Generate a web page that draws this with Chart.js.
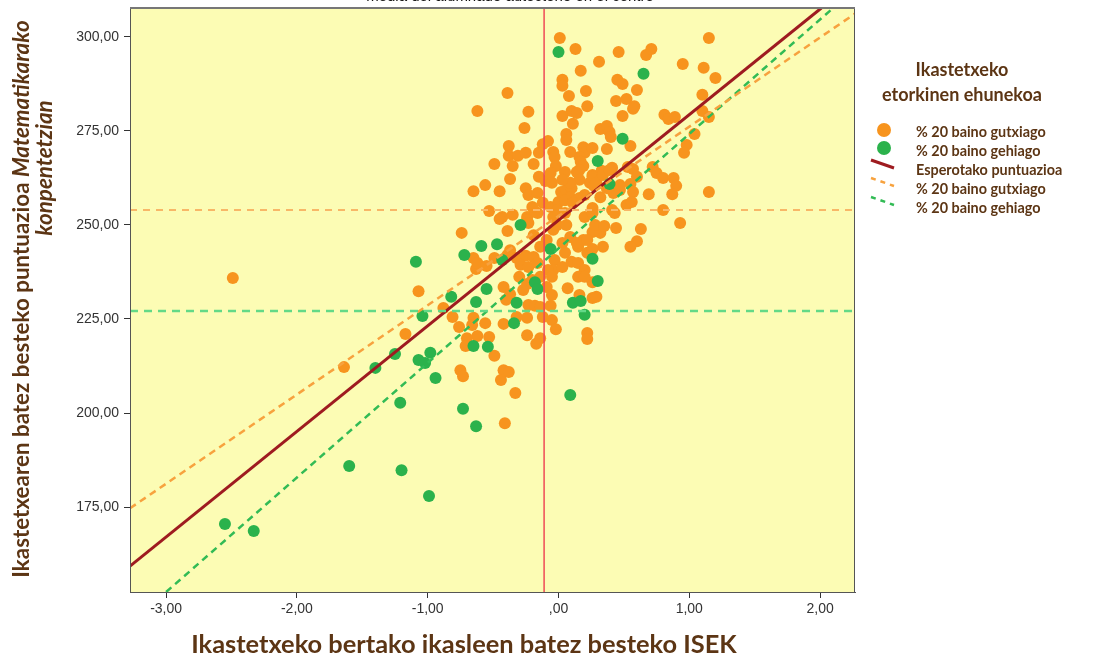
<!DOCTYPE html>
<html lang="eu">
<head>
    <meta charset="UTF-8">
    <title>ISEK eta Matematikako puntuazioa</title>
    <style>
        html, body { margin: 0; padding: 0; background: #ffffff; }
        #wrap { width: 1095px; height: 659px; }
    </style>
</head>
<body>
    <div id="wrap"><canvas id="chart" width="1095" height="659"></canvas></div>

    <script src="https://cdn.jsdelivr.net/npm/chart.js"></script>
    <script>
        // Ikastetxeak: % 20 baino etorkin gutxiago (laranja)
        const orangeX = [
            0.01, 0.13, 0.46, 0.31, 0.17, 0.03, 0.03, 0.08, 0.21, 0.45,
            0.49, 0.60, 0.44, 0.52, 0.57, 0.58, 0.67, 0.71, 0.95, 1.11,
            1.20, 1.15, 1.10, 0.22, 0.49, 0.03, 0.10, 0.14, 0.11, 0.06,
            0.06, 0.32, 0.37, 0.39, 0.40, 0.55, 0.81, 0.84, 0.89, 1.10,
            1.15, 1.04, 0.98, 0.96, 0.19, 0.20, 0.16, 0.26, 0.37, 0.09,
            0.17, 0.19, 0.16, 0.26, 0.24, 0.33, 0.41, 0.53, 0.57, 0.60,
            0.72, 0.75, 0.80, 0.88, 0.90, 0.87, 0.69, 0.55, 0.57, 1.15,
            -0.39, -0.62, -0.23, -0.26, -0.38, -0.08, -0.12, -0.38, -0.31, -0.25,
            -0.15, -0.04, -0.03, -0.49, -0.35, -0.19, -0.02, -0.37, -0.15, -0.10,
            -0.65, -0.56, -0.45, -0.25, -0.23, -0.16, -0.06, -0.05, 0.02, 0.06,
            0.10, 0.09, 0.16, 0.20, 0.32, 0.27, 0.42, 0.47, 0.41, 0.43,
            0.52, 0.56, 0.80, 0.05, 0.14, 0.16, 0.09, 0.03, 0.26, 0.29,
            0.34, 0.39, 0.37, 0.47, -0.53, -0.43, -0.35, -0.24, -0.18, -0.12,
            -0.06, 0.00, 0.05, 0.11, 0.20, 0.26, -0.45, -0.24, -0.39, -0.74,
            -0.16, -0.20, -0.04, -0.01, -0.04, -0.01, -0.23, -0.19, -0.09, -0.14,
            0.05, 0.26, 0.26, 0.19, 0.15, 0.34, 0.06, 0.09, 0.03, 0.14,
            0.22, 0.32, 0.28, 0.35, 0.44, 0.63, 0.60, 0.55, 0.93, 0.22,
            0.26, -0.65, -0.63, -0.62, -0.55, -0.49, -0.39, -0.37, -0.32, -0.25,
            -0.19, -0.29, -0.23, -0.16, -0.03, -0.04, 0.05, 0.03, 0.10, 0.15,
            0.20, 0.15, 0.26, 0.07, 0.26, 0.29, -0.30, -0.24, -0.27, -0.20,
            -0.14, -0.08, -0.05, -0.09, -0.05, -1.07, -0.42, -0.37, -0.40, 0.16,
            0.20, -0.23, -0.18, -0.14, -0.06, -0.12, -0.05, -0.88, -0.81, -0.76,
            -0.65, -0.56, -0.42, -1.17, -0.70, -0.62, -0.53, -0.24, -0.14, -0.02,
            -0.17, 0.22, 0.22, -0.71, -0.66, -0.49, -0.24, -0.32, -0.75, -0.73,
            -0.42, -0.38, -0.44, -0.33, -0.41, -1.64, -2.49
        ];
        const orangeY = [
            299.7, 296.8, 296.0, 293.4, 291.0, 288.6, 287.0, 284.3, 285.6, 288.6,
            287.5, 285.9, 283.0, 283.5, 280.9, 281.6, 295.2, 296.8, 292.8, 291.8,
            289.1, 299.7, 284.6, 281.6, 279.0, 279.0, 280.3, 279.8, 276.9, 274.2,
            272.6, 275.5, 276.3, 274.7, 273.4, 271.0, 279.3, 278.2, 278.7, 280.3,
            278.7, 274.2, 271.3, 269.2, 270.7, 269.2, 268.1, 270.5, 270.2, 269.4,
            266.8, 265.7, 264.6, 263.3, 261.2, 264.4, 265.2, 265.4, 264.9, 262.8,
            265.4, 263.8, 262.5, 262.5, 260.4, 258.2, 258.2, 260.9, 258.8, 258.8,
            285.1, 280.3, 280.1, 275.8, 271.0, 272.3, 271.5, 268.4, 268.4, 269.2,
            269.2, 269.4, 268.1, 266.2, 265.7, 266.2, 265.7, 262.2, 262.8, 261.7,
            259.0, 260.6, 259.0, 259.8, 258.0, 258.5, 263.8, 261.2, 258.8, 259.3,
            259.8, 257.4, 257.2, 258.0, 257.4, 260.4, 258.5, 259.3, 254.0, 253.2,
            255.3, 256.1, 254.0, 264.1, 264.1, 262.0, 261.2, 262.0, 262.8, 261.2,
            263.3, 264.6, 259.8, 260.6, 253.7, 252.1, 252.7, 252.1, 253.5, 255.9,
            254.8, 256.1, 256.6, 255.9, 252.1, 253.2, 251.6, 251.3, 248.4, 247.9,
            253.2, 254.8, 252.1, 254.0, 248.7, 250.0, 250.5, 247.3, 246.0, 244.2,
            253.2, 254.5, 248.1, 246.0, 244.2, 244.2, 250.0, 246.8, 245.2, 245.2,
            246.0, 247.9, 250.0, 249.7, 249.2, 248.9, 245.7, 244.2, 250.5, 242.6,
            243.6, 241.2, 238.3, 239.9, 239.1, 241.2, 242.0, 243.3, 241.2, 241.8,
            241.5, 239.4, 238.8, 239.9, 240.7, 238.0, 242.6, 238.8, 240.2, 239.9,
            238.0, 236.2, 234.8, 233.2, 230.6, 230.9, 236.2, 234.3, 232.7, 235.4,
            236.2, 238.0, 236.2, 233.5, 231.4, 232.4, 233.5, 231.6, 230.1, 231.4,
            236.2, 228.7, 228.5, 228.2, 228.5, 225.5, 224.7, 227.9, 225.5, 222.9,
            225.3, 223.9, 223.7, 221.0, 219.9, 220.5, 220.2, 220.7, 219.9, 222.3,
            218.4, 221.3, 219.7, 217.8, 223.4, 215.2, 225.3, 225.5, 211.4, 209.8,
            211.4, 210.9, 208.8, 205.3, 197.3, 212.2, 235.9
        ];

        // Ikastetxeak: % 20 baino etorkin gehiago (berdea)
        const greenX = [
            0.00, 0.65, 0.49, 0.30, 0.39, -0.29, -0.59, -0.47, -0.72, -1.09,
            -0.06, -0.43, 0.26, 0.30, -0.18, -0.16, -0.55, -0.63, -0.82, -1.04,
            -0.32, -0.34, 0.11, 0.17, 0.20, -0.65, -0.54, -1.25, -1.07, -1.02,
            -0.98, -0.94, 0.09, -1.21, -0.73, -0.63, -1.20, -0.99, -1.40, -1.60,
            -2.55, -2.33
        ];
        const greenY = [
            296.0, 290.2, 272.9, 267.0, 260.9, 250.0, 244.4, 244.9, 242.0, 240.2,
            243.6, 240.7, 241.0, 235.1, 234.8, 233.0, 233.0, 229.5, 230.9, 225.8,
            229.3, 223.9, 229.3, 229.8, 226.1, 217.8, 217.6, 215.7, 214.1, 213.3,
            216.0, 209.3, 204.8, 202.7, 201.1, 196.5, 184.8, 177.9, 212.0, 185.9,
            170.5, 168.6
        ];

        // Lerroak
        const expectedX = [-3.276, 2.01];      // Esperotako puntuazioa
        const expectedY = [159.3, 307.7];
        const orangeFitX = [-3.276, 2.267];
        const orangeFitY = [174.65, 306.2];
        const greenFitX = [-3.0, 2.10];
        const greenFitY = [152.4, 307.7];
        const orangeMean = 254.0;
        const greenMean = 227.1;
        const isekMean = -0.11;

        // Ardatzak
        const xRange = [-3.276, 2.267];
        const yRange = [152.4, 307.7];
        const xTicks = [-3, -2, -1, 0, 1, 2];
        const yTicks = [175, 200, 225, 250, 275, 300];

        // Testuak
        const xTitle = 'Ikastetxeko bertako ikasleen batez besteko ISEK';
        const yTitleMain = 'Ikastetxearen batez besteko puntuazioa ';
        const yTitleItalic = 'Matematikarako';
        const yTitleLine2 = 'konpentetzian';
        const topNote = 'media del alumnado autóctono en el centro';
        const legendTitle = ['Ikastetxeko', 'etorkinen ehunekoa'];
        const legendLabels = ['% 20 baino gutxiago', '% 20 baino gehiago', 'Esperotako puntuazioa',
                              '% 20 baino gutxiago', '% 20 baino gehiago'];

        // Koloreak
        const plotBg = '#fcfcb4';
        const brown = '#5c3514';
        const orange = '#f7941e';
        const green = '#2bb24c';
        const darkRed = '#9e1b20';
        const orangeDash = '#f7a23e';
        const greenDash = '#32bb55';

        const toPoints = (xs, ys) => xs.map((x, i) => ({ x: x, y: ys[i] }));

        function fmtComma(v) {
            let s = Number(v).toFixed(2).replace('.', ',');
            if (s.startsWith('0,')) s = s.slice(1);
            return s;
        }

        function fitSize(ctx, text, style, target) {
            ctx.font = style + ' 20px Lato';
            return 20 * target / ctx.measureText(text).width;
        }

        // Background + frame of the plot area
        const framePlugin = {
            id: 'frame',
            beforeDraw(chart) {
                const { ctx, chartArea: a } = chart;
                ctx.save();
                ctx.fillStyle = plotBg;
                ctx.fillRect(a.left, a.top, a.right - a.left, a.bottom - a.top);
                ctx.restore();
            },
            afterDatasetsDraw(chart) {
                const { ctx, chartArea: a } = chart;
                ctx.save();
                ctx.strokeStyle = '#555';
                ctx.lineWidth = 1;
                ctx.strokeRect(a.left + 0.5, a.top + 0.5, a.right - a.left - 1, a.bottom - a.top);
                ctx.lineWidth = 2;
                ctx.strokeStyle = '#777';
                ctx.beginPath();
                ctx.moveTo(a.left, a.top);
                ctx.lineTo(a.right, a.top);
                ctx.stroke();
                ctx.restore();
            }
        };

        // Titles and legend
        const textPlugin = {
            id: 'texts',
            afterDraw(chart) {
                const ctx = chart.ctx;
                ctx.save();

                // half hidden note on top
                ctx.fillStyle = '#111';
                ctx.font = '15px "Liberation Sans"';
                ctx.textAlign = 'center';
                ctx.textBaseline = 'alphabetic';
                ctx.fillText(topNote, 510, 1);

                ctx.fillStyle = brown;

                // x title
                let size = fitSize(ctx, xTitle, 'bold', 546);
                ctx.font = 'bold ' + size.toFixed(1) + 'px Lato';
                ctx.textAlign = 'center';
                ctx.textBaseline = 'middle';
                ctx.fillText(xTitle, 464, 645);

                // y title (two lines, part italic)
                ctx.font = 'bold 20px Lato';
                const w1 = ctx.measureText(yTitleMain).width;
                ctx.font = 'italic bold 20px Lato';
                const w2 = ctx.measureText(yTitleItalic).width;
                size = 20 * 558 / (w1 + w2);
                ctx.translate(22, 299);
                ctx.rotate(-Math.PI / 2);
                ctx.textAlign = 'left';
                ctx.font = 'bold ' + size.toFixed(1) + 'px Lato';
                const m1 = ctx.measureText(yTitleMain).width;
                ctx.font = 'italic bold ' + size.toFixed(1) + 'px Lato';
                const m2 = ctx.measureText(yTitleItalic).width;
                const x0 = -(m1 + m2) / 2;
                ctx.font = 'bold ' + size.toFixed(1) + 'px Lato';
                ctx.fillText(yTitleMain, x0, 0);
                ctx.font = 'italic bold ' + size.toFixed(1) + 'px Lato';
                ctx.fillText(yTitleItalic, x0 + m1, 0);
                ctx.setTransform(1, 0, 0, 1, 0, 0);
                ctx.translate(45, 168);
                ctx.rotate(-Math.PI / 2);
                ctx.textAlign = 'center';
                ctx.fillText(yTitleLine2, 0, 0);
                ctx.setTransform(1, 0, 0, 1, 0, 0);

                // legend title
                size = fitSize(ctx, legendTitle[1], 'bold', 160);
                ctx.font = 'bold ' + size.toFixed(1) + 'px Lato';
                ctx.textAlign = 'center';
                ctx.fillText(legendTitle[0], 962, 70);
                ctx.fillText(legendTitle[1], 962, 95);

                // legend rows
                const rows = [131, 150, 169, 188, 207];
                size = fitSize(ctx, legendLabels[2], 'bold', 146);
                ctx.font = 'bold ' + size.toFixed(1) + 'px Lato';
                ctx.textAlign = 'left';
                legendLabels.forEach((t, i) => ctx.fillText(t, 916, rows[i] + 1));

                ctx.fillStyle = orange;
                ctx.beginPath(); ctx.arc(884, rows[0] - 1, 7, 0, Math.PI * 2); ctx.fill();
                ctx.fillStyle = green;
                ctx.beginPath(); ctx.arc(884, rows[1] - 2, 7, 0, Math.PI * 2); ctx.fill();

                const sample = (color, width, dash, y) => {
                    ctx.strokeStyle = color;
                    ctx.lineWidth = width;
                    ctx.setLineDash(dash);
                    ctx.beginPath();
                    ctx.moveTo(871, y - 4);
                    ctx.lineTo(894, y + 4);
                    ctx.stroke();
                };
                sample(darkRed, 3, [], rows[2] - 5);
                sample(orangeDash, 2.5, [5, 5], rows[3] - 6);
                sample(greenDash, 2.5, [5, 5], rows[4] - 6);

                ctx.restore();
            }
        };

        const lineBase = { showLine: true, pointRadius: 0, pointHoverRadius: 0, clip: 0, order: 0, fill: false };

        new Chart(document.getElementById('chart'), {
            type: 'scatter',
            data: {
                datasets: [
                    Object.assign({ label: 'ISEK batez bestekoa', data: toPoints([isekMean, isekMean], yRange),
                        borderColor: '#ef4a56', borderWidth: 1.5 }, lineBase),
                    Object.assign({ label: 'Batez bestekoa <20', data: toPoints(xRange, [orangeMean, orangeMean]),
                        borderColor: '#f8b767', borderWidth: 2, borderDash: [7, 6] }, lineBase),
                    Object.assign({ label: 'Batez bestekoa >20', data: toPoints(xRange, [greenMean, greenMean]),
                        borderColor: '#63d987', borderWidth: 2.5, borderDash: [8, 6] }, lineBase),
                    Object.assign({ label: legendLabels[3], data: toPoints(orangeFitX, orangeFitY),
                        borderColor: orangeDash, borderWidth: 2.5, borderDash: [7, 5] }, lineBase),
                    Object.assign({ label: legendLabels[4], data: toPoints(greenFitX, greenFitY),
                        borderColor: greenDash, borderWidth: 2.5, borderDash: [7, 5] }, lineBase),
                    Object.assign({ label: legendLabels[2], data: toPoints(expectedX, expectedY),
                        borderColor: darkRed, borderWidth: 3 }, lineBase),
                    {
                        label: legendLabels[1],
                        data: toPoints(greenX, greenY),
                        backgroundColor: green,
                        borderColor: green,
                        borderWidth: 0,
                        pointRadius: 6,
                        pointHoverRadius: 6,
                        order: 1
                    },
                    {
                        label: legendLabels[0],
                        data: toPoints(orangeX, orangeY),
                        backgroundColor: orange,
                        borderColor: orange,
                        borderWidth: 0,
                        pointRadius: 6,
                        pointHoverRadius: 6,
                        order: 2
                    }
                ]
            },
            options: {
                responsive: false,
                animation: false,
                layout: { padding: { top: 8, right: 240, left: 0, bottom: 0 } },
                plugins: {
                    legend: { display: false },
                    tooltip: { enabled: false }
                },
                scales: {
                    x: {
                        type: 'linear',
                        min: xRange[0],
                        max: xRange[1],
                        afterBuildTicks: s => { s.ticks = xTicks.map(v => ({ value: v })); },
                        afterFit: s => { s.height = 67; s.paddingLeft = 0; s.paddingRight = 0; },
                        ticks: {
                            callback: v => fmtComma(v),
                            color: '#333',
                            font: { family: 'Liberation Sans', size: 14 },
                            padding: 3,
                            maxRotation: 0,
                            autoSkip: false
                        },
                        grid: { drawOnChartArea: false, tickLength: 6, tickColor: '#333' },
                        border: { color: '#555', width: 1 }
                    },
                    y: {
                        type: 'linear',
                        min: yRange[0],
                        max: yRange[1],
                        afterBuildTicks: s => { s.ticks = yTicks.map(v => ({ value: v })); },
                        afterFit: s => { s.width = 130; s.paddingTop = 0; s.paddingBottom = 0; },
                        ticks: {
                            callback: v => fmtComma(v),
                            color: '#333',
                            font: { family: 'Liberation Sans', size: 14 },
                            padding: 5,
                            autoSkip: false
                        },
                        grid: { drawOnChartArea: false, tickLength: 6, tickColor: '#333' },
                        border: { color: '#555', width: 1 }
                    }
                }
            },
            plugins: [framePlugin, textPlugin]
        });
    </script>
</body>
</html>
